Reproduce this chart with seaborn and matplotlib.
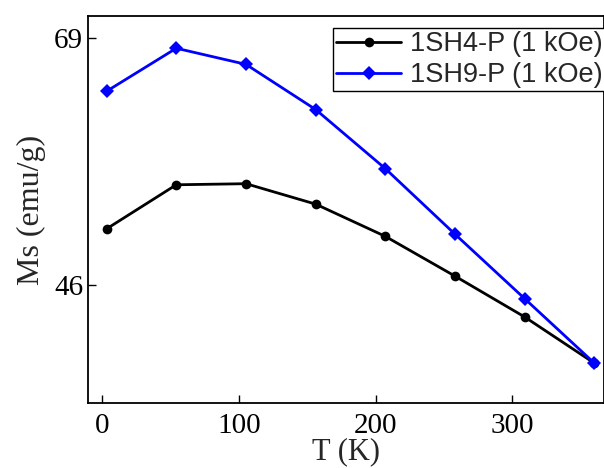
import matplotlib
matplotlib.use("Agg")
import matplotlib.pyplot as plt
import numpy as np
import pandas as pd
import seaborn as sns

# temperatures (K) and saturation magnetisation (emu/g)
temps = [3, 54, 105, 156, 207, 258, 309, 360]
ms_sh4 = [51.2, 55.3, 55.4, 53.5, 50.5, 46.8, 43.0, 38.7]
ms_sh9 = [64.0, 68.0, 66.5, 62.3, 56.8, 50.7, 44.7, 38.7]
labels = ["1SH4-P (1 kOe)", "1SH9-P (1 kOe)"]

df = pd.DataFrame({
    "T": temps * 2,
    "Ms": ms_sh4 + ms_sh9,
    "sample": [labels[0]] * len(temps) + [labels[1]] * len(temps),
})

sns.set_style("ticks")
plt.rcParams["font.family"] = ["Liberation Serif", "DejaVu Serif"]

fig = plt.figure(figsize=(6.04, 4.68), dpi=100)
ax = fig.add_axes([88 / 604, 65 / 468, 516 / 604, 387 / 468])

sns.lineplot(data=df, x="T", y="Ms", hue="sample", style="sample",
             palette=["black", "#0000ff"], markers=["o", "D"], dashes=False,
             markersize=7, linewidth=2, markeredgewidth=0, ax=ax)

ax.set_xlim(-10.6, 367)
ax.set_ylim(35, 71)
ax.set_xticks([0, 100, 200, 300])
ax.set_yticks([46, 69])
ax.tick_params(direction="in", length=6, width=1, labelsize=21, colors="black")
ax.tick_params(axis="x", pad=7)
for s in ax.spines.values():
    s.set_linewidth(1.3)
    s.set_color("black")

ax.set_xlabel("T (K)", fontsize=22, labelpad=-1)
ax.set_ylabel("Ms (emu/g)", fontsize=23, labelpad=6)

leg = ax.legend(loc="upper right", bbox_to_anchor=(1.003, 1 - 12 / 387),
                frameon=True, fancybox=False, edgecolor="black", framealpha=1,
                handlelength=2.4, borderpad=0.12, labelspacing=0.18,
                handletextpad=0.32, borderaxespad=0,
                prop={"family": "Liberation Sans", "size": 19.5})
leg.get_frame().set_linewidth(1)
leg.set_title(None)

fig.savefig("out.png", dpi=100)
